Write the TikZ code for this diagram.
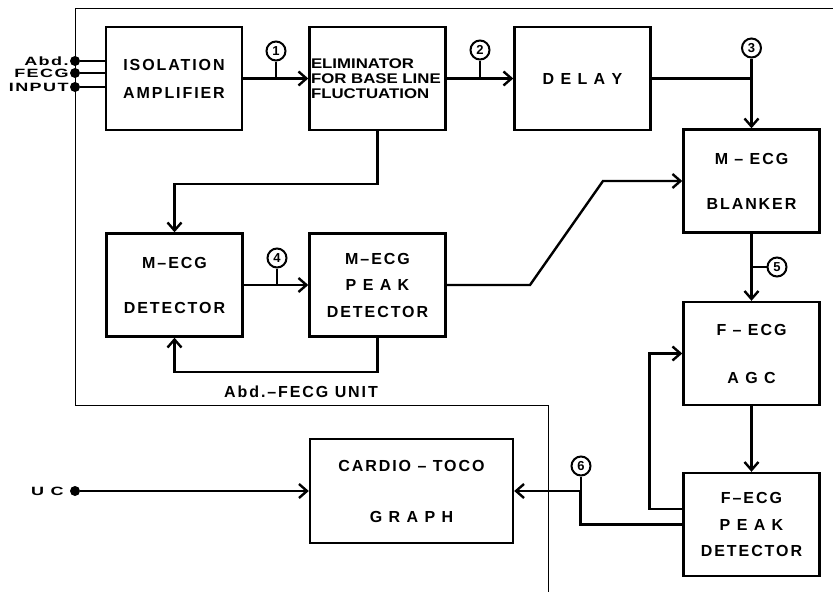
\documentclass[tikz,border=0pt]{standalone}
\usepackage{fontspec}
\usepackage{tikz}
\usetikzlibrary{positioning}
\usetikzlibrary{arrows.meta}
\newfontfamily\diagfont[LetterSpace=12]{Liberation Sans}
\newfontfamily\elimfont[FakeStretch=1.2]{Liberation Sans}
\newfontfamily\termfont[LetterSpace=12,FakeStretch=1.5]{Liberation Sans}
\newfontfamily\tagfont{Liberation Sans}

\begin{document}
\begin{tikzpicture}[
    x=1pt, y=-1pt, % pixel-like units, y pointing down
    box/.style={
        draw,
        rectangle,
        line width=2.4pt,
        minimum width=136pt,
        minimum height=103pt,
        inner sep=2pt,
        align=center,
        font=\diagfont\bfseries\fontsize{16}{15}\selectfont
    },
    arrow/.style={
        -{Straight Barb[length=8pt,width=14pt]},
        line width=2.4pt
    },
    wire/.style={line width=2.4pt},
    tag/.style={
        draw,
        circle,
        line width=2pt,
        inner sep=0pt,
        minimum size=19pt,
        font=\tagfont\bfseries\fontsize{13}{13}\selectfont
    },
    term/.style={circle, fill, inner sep=0pt, minimum size=10pt},
    termlabel/.style={inner sep=1pt, font=\termfont\bfseries\fontsize{12}{12}\selectfont}
]
    \useasboundingbox (0,0) rectangle (833,592);

    % --- Boundary of the Abd.-FECG unit ---
    \draw[line width=1pt] (833,8) -- (75,8) -- (75,405) -- (548,405) -- (548,592);
    \node[font=\diagfont\bfseries\fontsize{16}{15}\selectfont] (unitlabel) at (301,392) {Abd.–FECG UNIT};

    % --- Processing blocks ---
    \node[box] (iso)   at (174,78.5)   {ISOLATION\\[13pt]AMPLIFIER};
    \node[box, text width=133pt, inner sep=1pt, align=left,
          font=\elimfont\bfseries\fontsize{14}{15}\selectfont]
                 (elim)  at (377.5,78.5) {ELIMINATOR\\FOR BASE LINE\\FLUCTUATION};
    \node[box] (delay) at (582.5,78.5) {D E L A Y};
    \node[box] (blank) at (751.5,181)  {M – ECG\\[30pt]BLANKER};
    \node[box] (mdet)  at (174.5,285)  {M–ECG\\[30pt]DETECTOR};
    \node[box] (mpeak) at (377.5,285)  {M–ECG\\[11.5pt]P E A K\\[11.5pt]DETECTOR};
    \node[box] (agc)   at (751.5,353.5) {F – ECG\\[33pt]A G C};
    \node[box] (fpeak) at (751.5,524.5) {F–ECG\\[11.5pt]P E A K\\[11.5pt]DETECTOR};
    \node[box, minimum width=203pt, minimum height=104pt] (ctg) at (411.5,491) {CARDIO – TOCO\\[36pt]G R A P H};

    % --- Input terminals ---
    \node[term] (tabd)  at (75,61) {};
    \node[term] (tfecg) at (75,73) {};
    \node[term] (tinp)  at (75,87) {};
    \node[termlabel, left=0pt of tabd]  (labd)  {Abd.};
    \node[termlabel, left=0pt of tfecg] (lfecg) {FECG};
    \node[termlabel, left=0pt of tinp]  (linp)  {INPUT};
    \node[term] (uc) at (75,491) {};
    \node[termlabel, left=5pt of uc] (luc) {U C};

    % --- Test points ---
    \node[tag] (m1) at (276,51)    {1};
    \node[tag] (m2) at (480,50)    {2};
    \node[tag] (m3) at (751.5,48)  {3};
    \node[tag] (m4) at (277,258)   {4};
    \node[tag] (m5) at (777,267)   {5};
    \node[tag] (m6) at (581,466)   {6};

    % --- Signal path ---
    \draw[wire] (tabd)  -- (tabd -| iso.west);
    \draw[wire] (tfecg) -- (tfecg -| iso.west);
    \draw[wire] (tinp)  -- (tinp -| iso.west);
    \draw[arrow] (iso.east) -- (elim.west);
    \draw[wire] (m1) -- (m1 |- iso.east);
    \draw[arrow] (elim.east) -- (delay.west);
    \draw[wire] (m2) -- (m2 |- elim.east);
    \draw[arrow] (delay.east) -| (blank.north);
    \draw[wire] (m3) -- (m3 |- delay.east);
    \draw[arrow] (elim.south) -- ++(0,53) -| (mdet.north);
    \draw[arrow] (mdet.east) -- (mpeak.west);
    \draw[wire] (m4) -- (m4 |- mdet.east);
    \draw[arrow] (mpeak.south) -- ++(0,34) -| (mdet.south);
    \coordinate (kneeA) at (530,285);
    \coordinate (kneeB) at (603,181);
    \draw[arrow] (mpeak.east) -- (kneeA) -- (kneeB) -- (blank.west);
    \draw[arrow] (blank.south) -- (agc.north);
    \draw[wire] (m5) -- (m5 -| blank.south);
    \draw[arrow] (agc.south) -- (fpeak.north);
    \draw[arrow] ([yshift=15.5pt]fpeak.west) -- ++(-33,0) |- (agc.west);
    \draw[arrow] (fpeak.west) -- ++(-102,0) |- (ctg.east);
    \draw[wire] (m6) -- (m6 |- ctg.east);
    \draw[arrow] (uc) -- (ctg.west);
\end{tikzpicture}
\end{document}
